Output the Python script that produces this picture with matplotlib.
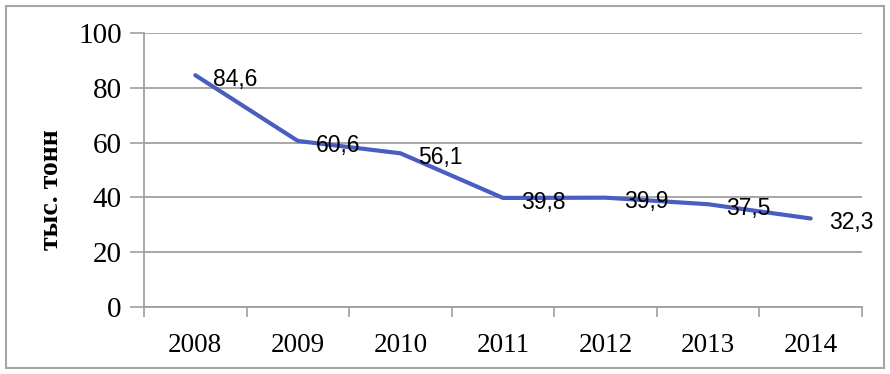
import matplotlib.pyplot as plt
from matplotlib.patches import Rectangle
import numpy as np

years = ['2008', '2009', '2010', '2011', '2012', '2013', '2014']
values = [84.6, 60.6, 56.1, 39.8, 39.9, 37.5, 32.3]
value_labels = ['84,6', '60,6', '56,1', '39,8', '39,9', '37,5', '32,3']

fig = plt.figure(figsize=(8.9, 3.74), dpi=100)
ax = fig.add_axes([144/890, 1 - 307/374, (862 - 144)/890, (307 - 33)/374])

x = np.arange(len(years))
ax.plot(x, values, color='#4A5EC2', linewidth=3, solid_capstyle='round', zorder=3)

for xi, v, lab in zip(x, values, value_labels):
    ax.annotate(lab, (xi, v), xytext=(13, -3), textcoords='offset points',
                ha='left', va='center', fontsize=16.5, family='Liberation Sans', zorder=4)

ax.set_xlim(-0.5, len(years) - 0.5)
ax.set_ylim(0, 100)
ax.set_yticks(range(0, 101, 20))
ax.set_xticks(x)
ax.set_xticklabels(years, family='Liberation Serif', fontsize=19.5)
ax.set_xticks(np.arange(-0.5, len(years), 1), minor=True)
ax.tick_params(axis='x', which='major', length=0, pad=19)
ax.tick_params(axis='x', which='minor', length=7, width=1.2, color='#a0a0a0', direction='out')
ax.tick_params(axis='y', length=10, width=1.2, color='#a0a0a0', pad=6, labelsize=21)
for t in ax.get_yticklabels():
    t.set_family('Liberation Serif')

ax.grid(axis='y', color='#a0a0a0', linewidth=1.3)
ax.set_axisbelow(True)
for s in ['top', 'right']:
    ax.spines[s].set_visible(False)
ax.spines['left'].set_color('#a0a0a0')
ax.spines['left'].set_linewidth(1.3)
ax.spines['bottom'].set_color('#a0a0a0')
ax.spines['bottom'].set_linewidth(1.3)

fig.text(52/890, 1 - 190/374, 'тыс. тонн', rotation=90, ha='center', va='center',
         family='Liberation Serif', fontweight='bold', fontsize=20)

fig.patches.append(Rectangle((6/890, 6/374), 878/890, 362/374, transform=fig.transFigure,
                             fill=False, edgecolor='#a6a6a6', linewidth=1.5))

fig.savefig('out.png', dpi=100)
